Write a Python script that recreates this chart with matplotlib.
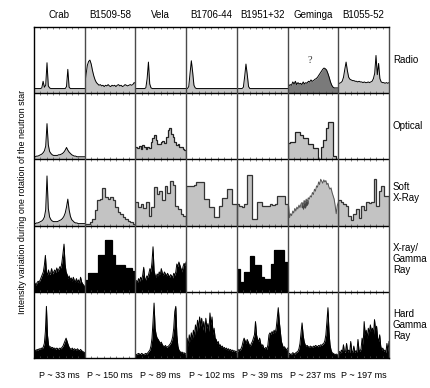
import matplotlib
matplotlib.use('Agg')
import matplotlib.pyplot as plt
import numpy as np

plt.rcParams['font.family'] = ['Liberation Sans', 'DejaVu Sans']

pulsars = ["Crab", "B1509-58", "Vela", "B1706-44", "B1951+32", "Geminga", "B1055-52"]
periods = ["P ~ 33 ms", "P ~ 150 ms", "P ~ 89 ms", "P ~ 102 ms", "P ~ 39 ms", "P ~ 237 ms", "P ~ 197 ms"]
bands = ["Radio", "Optical", "Soft\nX-Ray", "X-ray/\nGamma\nRay", "Hard\nGamma\nRay"]

# ---------------- Radio ----------------
crab_radio = [0.07, 0.07, 0.07, 0.07, 0.07, 0.07, 0.08, 0.18, 0.09, 0.12, 0.46, 0.11, 0.08,
              0.07, 0.07, 0.07, 0.07, 0.07, 0.07, 0.07, 0.07, 0.07, 0.07, 0.07, 0.07,
              0.10, 0.36, 0.09, 0.07, 0.07, 0.07, 0.07, 0.07, 0.07, 0.07, 0.07, 0.07, 0.07, 0.07, 0.07]
b1509_radio = [0.12, 0.28, 0.42, 0.48, 0.50, 0.44, 0.34, 0.26, 0.20, 0.16,
               0.14, 0.12, 0.13, 0.11, 0.12, 0.10, 0.12, 0.11, 0.13, 0.11,
               0.10, 0.12, 0.11, 0.12, 0.10, 0.12, 0.13, 0.11, 0.12, 0.10,
               0.11, 0.13, 0.12, 0.11, 0.12, 0.13, 0.12, 0.13, 0.16, 0.15]
vela_radio = [0.07, 0.07, 0.07, 0.07, 0.07, 0.07, 0.07, 0.07, 0.08, 0.22, 0.47, 0.14, 0.08,
              0.07, 0.07, 0.07, 0.07, 0.07, 0.07, 0.07, 0.07, 0.07, 0.07, 0.07, 0.07, 0.07,
              0.07, 0.07, 0.07, 0.07, 0.07, 0.07, 0.07, 0.07, 0.07, 0.07, 0.07, 0.07, 0.07, 0.07]
b1706_radio = [0.07, 0.07, 0.10, 0.30, 0.49, 0.32, 0.12, 0.08, 0.07, 0.07,
               0.07, 0.07, 0.07, 0.07, 0.07, 0.07, 0.07, 0.07, 0.07, 0.07,
               0.07, 0.07, 0.07, 0.07, 0.07, 0.07, 0.07, 0.07, 0.07, 0.07,
               0.07, 0.07, 0.07, 0.07, 0.07, 0.07, 0.07, 0.07, 0.07, 0.07]
b1951_radio = [0.07, 0.07, 0.07, 0.07, 0.07, 0.09, 0.25, 0.44, 0.28, 0.10,
               0.07, 0.07, 0.07, 0.07, 0.07, 0.07, 0.07, 0.07, 0.07, 0.07,
               0.07, 0.07, 0.07, 0.07, 0.07, 0.07, 0.07, 0.07, 0.07, 0.07,
               0.07, 0.07, 0.07, 0.07, 0.07, 0.07, 0.07, 0.07, 0.07, 0.07]
geminga_radio = [0.10, 0.11, 0.13, 0.12, 0.17, 0.14, 0.18, 0.13, 0.16, 0.14,
                 0.15, 0.13, 0.17, 0.14, 0.16, 0.15, 0.18, 0.17, 0.20, 0.18,
                 0.19, 0.21, 0.22, 0.24, 0.27, 0.30, 0.33, 0.36, 0.38, 0.37,
                 0.35, 0.30, 0.24, 0.17, 0.12, 0.09, 0.08, 0.08, 0.08, 0.08]
b1055_radio = [0.15, 0.15, 0.16, 0.18, 0.24, 0.36, 0.47, 0.34, 0.24, 0.21,
               0.20, 0.19, 0.19, 0.18, 0.18, 0.17, 0.18, 0.17, 0.17, 0.16,
               0.17, 0.16, 0.16, 0.17, 0.16, 0.17, 0.18, 0.22, 0.30, 0.57,
               0.28, 0.45, 0.22, 0.17, 0.16, 0.16, 0.15, 0.16, 0.15, 0.16]

# ---------------- Optical ----------------
crab_opt = [0.04, 0.04, 0.05, 0.05, 0.06, 0.07, 0.08, 0.10, 0.13, 0.20,
            0.54, 0.22, 0.12, 0.09, 0.07, 0.06, 0.06, 0.06, 0.06, 0.07,
            0.07, 0.08, 0.09, 0.11, 0.14, 0.18, 0.14, 0.11, 0.09, 0.07,
            0.06, 0.05, 0.05, 0.04, 0.04, 0.04, 0.04, 0.04, 0.04, 0.04]
vela_opt = [0.18, 0.17, 0.20, 0.16, 0.22, 0.18, 0.15, 0.19, 0.17, 0.26, 0.33, 0.37, 0.30, 0.24, 0.23,
            0.26, 0.28, 0.25, 0.34, 0.44, 0.48, 0.38, 0.34, 0.27, 0.22, 0.24, 0.19, 0.18, 0.15, 0.14]
geminga_opt = [0.25, 0.27, 0.27, 0.41, 0.41, 0.37, 0.32, 0.32, 0.23, 0.23,
               0.17, 0.17, 0.01, 0.19, 0.30, 0.48, 0.57, 0.57, 0.05, 0.0]

# ---------------- Soft X-ray ----------------
crab_soft = [0.03, 0.03, 0.04, 0.04, 0.05, 0.06, 0.07, 0.09, 0.13, 0.24,
             0.75, 0.26, 0.13, 0.09, 0.07, 0.06, 0.06, 0.06, 0.06, 0.07,
             0.08, 0.09, 0.11, 0.14, 0.19, 0.28, 0.40, 0.24, 0.14, 0.09,
             0.07, 0.05, 0.04, 0.04, 0.03, 0.03, 0.03, 0.03, 0.03, 0.03]
b1509_soft = [0.02, 0.03, 0.05, 0.10, 0.23, 0.38, 0.40, 0.57, 0.43, 0.40,
              0.43, 0.38, 0.28, 0.20, 0.17, 0.13, 0.10, 0.07, 0.05, 0.03]
vela_soft = [0.35, 0.28, 0.33, 0.26, 0.35, 0.15, 0.28, 0.58, 0.47, 0.52,
             0.39, 0.60, 0.50, 0.68, 0.62, 0.30, 0.25, 0.18, 0.14]
b1706_soft = [0.60, 0.60, 0.60, 0.62, 0.66, 0.66, 0.66, 0.40, 0.40, 0.28,
              0.28, 0.13, 0.13, 0.30, 0.41, 0.41, 0.56, 0.56, 0.33, 0.33]
b1951_soft = [0.32, 0.30, 0.28, 0.32, 0.76, 0.76, 0.10, 0.10, 0.36, 0.36,
              0.29, 0.29, 0.30, 0.32, 0.31, 0.32, 0.44, 0.44, 0.44, 0.33]
geminga_soft = [0.38, 0.30, 0.12, 0.18, 0.15, 0.22, 0.19, 0.26, 0.22, 0.28,
                0.25, 0.31, 0.27, 0.33, 0.35, 0.30, 0.38, 0.34, 0.40, 0.36,
                0.42, 0.40, 0.45, 0.43, 0.50, 0.47, 0.55, 0.52, 0.60, 0.58,
                0.66, 0.62, 0.70, 0.67, 0.64, 0.69, 0.66, 0.68, 0.62, 0.64,
                0.58, 0.55, 0.57, 0.50, 0.45, 0.40, 0.30, 0.18, 0.30, 0.35]
geminga_soft_low = [0.28, 0.27, 0.24, 0.28, 0.26, 0.30, 0.31, 0.34]  # lower edge of dark patch, points 13..20
b1055_soft = [0.38, 0.36, 0.33, 0.30, 0.15, 0.08, 0.18, 0.25, 0.12, 0.30,
              0.23, 0.36, 0.34, 0.36, 0.71, 0.30, 0.52, 0.60, 0.45, 0.45]

# ---------------- X-ray / Gamma ----------------
crab_xg = [0.12, 0.13, 0.10, 0.14, 0.16, 0.15, 0.18, 0.22, 0.26, 0.30,
           0.40, 0.55, 0.30, 0.25, 0.33, 0.26, 0.28, 0.35, 0.27, 0.30,
           0.33, 0.29, 0.36, 0.31, 0.34, 0.38, 0.36, 0.45, 0.58, 0.72,
           0.42, 0.30, 0.26, 0.20, 0.24, 0.18, 0.21, 0.16, 0.22, 0.17,
           0.15, 0.20, 0.14, 0.18, 0.13, 0.22, 0.15, 0.12, 0.10, 0.08]
b1509_xg = [0.18, 0.28, 0.28, 0.28, 0.55, 0.55, 0.78, 0.78, 0.55, 0.40,
            0.40, 0.40, 0.36, 0.36, 0.31]
vela_xg = [0.15, 0.17, 0.14, 0.20, 0.16, 0.22, 0.18, 0.25, 0.37, 0.20,
           0.18, 0.24, 0.22, 0.28, 0.35, 0.30, 0.45, 0.68, 0.32, 0.25,
           0.22, 0.27, 0.24, 0.30, 0.26, 0.35, 0.28, 0.25, 0.30, 0.27,
           0.24, 0.28, 0.25, 0.22, 0.26, 0.24, 0.21, 0.28, 0.25, 0.30,
           0.42, 0.38, 0.45, 0.40, 0.35, 0.30, 0.38, 0.43, 0.40, 0.45]
b1951_xg = [0.35, 0.15, 0.30, 0.30, 0.54, 0.40, 0.40, 0.22, 0.20, 0.20,
            0.42, 0.63, 0.63, 0.63, 0.45]

# ---------------- Hard Gamma ----------------
crab_hg = [0.10, 0.12, 0.11, 0.13, 0.12, 0.14, 0.13, 0.15, 0.14, 0.17,
           0.22, 0.40, 0.78, 0.35, 0.20, 0.16, 0.17, 0.15, 0.16, 0.14,
           0.15, 0.13, 0.15, 0.14, 0.13, 0.15, 0.14, 0.16, 0.18, 0.22,
           0.26, 0.30, 0.25, 0.20, 0.16, 0.14, 0.13, 0.15, 0.12, 0.14,
           0.13, 0.12, 0.14, 0.12, 0.11, 0.13, 0.11, 0.10, 0.09, 0.08]
vela_hg = [0.06, 0.05, 0.06, 0.07, 0.06, 0.05, 0.07, 0.06, 0.05, 0.06,
           0.07, 0.06, 0.08, 0.10, 0.12, 0.18, 0.30, 0.55, 0.83, 0.45,
           0.35, 0.30, 0.28, 0.25, 0.22, 0.24, 0.20, 0.18, 0.17, 0.19,
           0.16, 0.17, 0.18, 0.20, 0.22, 0.26, 0.32, 0.45, 0.70, 0.78,
           0.35, 0.18, 0.12, 0.10, 0.08, 0.09, 0.07, 0.08, 0.06, 0.07]
b1706_hg = [0.22, 0.30, 0.18, 0.35, 0.25, 0.38, 0.28, 0.42, 0.33, 0.50,
            0.40, 0.57, 0.45, 0.62, 0.48, 0.60, 0.42, 0.55, 0.38, 0.60,
            0.45, 0.52, 0.40, 0.68, 0.50, 0.62, 0.35, 0.45, 0.30, 0.28,
            0.22, 0.25, 0.18, 0.20, 0.16, 0.18, 0.14, 0.16, 0.13, 0.15,
            0.12, 0.14, 0.11, 0.13, 0.10, 0.12, 0.10, 0.11, 0.09, 0.10]
b1951_hg = [0.12, 0.10, 0.13, 0.11, 0.14, 0.18, 0.25, 0.30, 0.26, 0.22,
            0.28, 0.24, 0.20, 0.18, 0.22, 0.25, 0.30, 0.35, 0.55, 0.35,
            0.28, 0.25, 0.30, 0.22, 0.18, 0.20, 0.15, 0.14, 0.16, 0.13,
            0.20, 0.35, 0.38, 0.36, 0.40, 0.37, 0.42, 0.38, 0.45, 0.60,
            0.76, 0.55, 0.40, 0.25, 0.20, 0.15, 0.17, 0.14, 0.12, 0.15]
geminga_hg = [0.08, 0.06, 0.07, 0.05, 0.06, 0.08, 0.07, 0.06, 0.08, 0.09,
              0.10, 0.14, 0.22, 0.38, 0.53, 0.35, 0.25, 0.20, 0.18, 0.19,
              0.17, 0.16, 0.18, 0.17, 0.16, 0.18, 0.17, 0.19, 0.18, 0.17,
              0.19, 0.18, 0.20, 0.19, 0.21, 0.22, 0.26, 0.35, 0.55, 0.76,
              0.40, 0.20, 0.12, 0.08, 0.07, 0.06, 0.05, 0.06, 0.05, 0.04]
b1055_hg = [0.08, 0.10, 0.07, 0.12, 0.09, 0.20, 0.08, 0.10, 0.22, 0.09,
            0.12, 0.08, 0.25, 0.10, 0.09, 0.18, 0.08, 0.11, 0.09, 0.28,
            0.12, 0.10, 0.14, 0.30, 0.20, 0.55, 0.35, 0.42, 0.30, 0.45,
            0.38, 0.50, 0.40, 0.45, 0.35, 0.58, 0.42, 0.48, 0.30, 0.25,
            0.35, 0.18, 0.12, 0.15, 0.10, 0.12, 0.08, 0.22, 0.10, 0.25]

LIGHT = '#c3c3c3'
DARK = '#7a7a7a'

# (row, col): (values, kind, fill colour, line colour)
cells = {
    (0, 0): (crab_radio, 'line', LIGHT, 'black'),
    (0, 1): (b1509_radio, 'line', LIGHT, 'black'),
    (0, 2): (vela_radio, 'line', LIGHT, 'black'),
    (0, 3): (b1706_radio, 'line', LIGHT, 'black'),
    (0, 4): (b1951_radio, 'line', LIGHT, 'black'),
    (0, 5): (geminga_radio, 'line', DARK, 'black'),
    (0, 6): (b1055_radio, 'line', LIGHT, 'black'),
    (1, 0): (crab_opt, 'line', LIGHT, 'black'),
    (1, 2): (vela_opt, 'step', LIGHT, '#222222'),
    (1, 5): (geminga_opt, 'step', LIGHT, '#222222'),
    (2, 0): (crab_soft, 'line', LIGHT, 'black'),
    (2, 1): (b1509_soft, 'step', LIGHT, '#333333'),
    (2, 2): (vela_soft, 'step', LIGHT, '#333333'),
    (2, 3): (b1706_soft, 'step', LIGHT, '#333333'),
    (2, 4): (b1951_soft, 'step', LIGHT, '#333333'),
    (2, 5): (geminga_soft, 'line', LIGHT, '#555555'),
    (2, 6): (b1055_soft, 'step', LIGHT, '#333333'),
    (3, 0): (crab_xg, 'line', 'black', 'black'),
    (3, 1): (b1509_xg, 'step', 'black', 'black'),
    (3, 2): (vela_xg, 'line', 'black', 'black'),
    (3, 4): (b1951_xg, 'step', 'black', 'black'),
    (4, 0): (crab_hg, 'line', 'black', 'black'),
    (4, 2): (vela_hg, 'line', 'black', 'black'),
    (4, 3): (b1706_hg, 'line', 'black', 'black'),
    (4, 4): (b1951_hg, 'line', 'black', 'black'),
    (4, 5): (geminga_hg, 'line', 'black', 'black'),
    (4, 6): (b1055_hg, 'line', 'black', 'black'),
}

W, H = 431, 388
fig = plt.figure(figsize=(W / 100, H / 100), dpi=100)
fig.patch.set_facecolor('white')

left, right, top, bottom = 34, 389, 27, 358
ncol, nrow = 7, 5
cw = (right - left) / ncol
rh = (bottom - top) / nrow

axes = {}
for r in range(nrow):
    for c in range(ncol):
        ax = fig.add_axes([(left + c * cw) / W, 1 - (top + (r + 1) * rh) / H, cw / W, rh / H])
        ax.set_xlim(0, 1)
        ax.set_ylim(0, 1)
        for s in ax.spines.values():
            s.set_visible(False)
        ax.set_xticks(np.linspace(0, 1, 9)[1:-1])
        ax.set_yticks([])
        ax.tick_params(axis='x', direction='in', length=1.5, width=0.5, color='#555555',
                       top=True, bottom=True, labelbottom=False)
        axes[(r, c)] = ax

for (r, c), (vals, kind, fc, ec) in cells.items():
    ax = axes[(r, c)]
    if kind == 'line':
        x = np.linspace(0, 1, len(vals))
        ax.fill_between(x, 0, vals, color=fc, lw=0)
        ax.plot(x, vals, color=ec, lw=0.7)
    else:
        edges = np.linspace(0, 1, len(vals) + 1)
        ax.stairs(vals, edges, fill=True, color=fc, lw=0)
        ax.stairs(vals, edges, color=ec, lw=0.9)

# dark patch in Geminga soft X-ray
axg = axes[(2, 5)]
xg = np.linspace(0, 1, len(geminga_soft))[13:21]
axg.fill_between(xg, geminga_soft_low, geminga_soft[13:21], color='#444444', lw=0)

# question mark on Geminga radio
axes[(0, 5)].text(0.44, 0.42, '?', family=['Liberation Serif', 'DejaVu Serif'],
                  fontsize=7.5, ha='center', va='bottom', color='#333333')

# grid overlay
ov = fig.add_axes([left / W, 1 - bottom / H, (right - left) / W, (bottom - top) / H], zorder=10)
ov.set_xlim(0, ncol)
ov.set_ylim(nrow, 0)
ov.patch.set_alpha(0)
ov.set_xticks([])
ov.set_yticks([])
for r in range(1, nrow):
    ov.axhline(r, color='black', lw=1.0)
for c in range(1, ncol):
    ov.axvline(c, color='#4a4a4a', lw=1.0)
for name, s in ov.spines.items():
    s.set_linewidth(1.0)
    s.set_color('black' if name != 'right' else '#4a4a4a')

# texts
for c, (name, per) in enumerate(zip(pulsars, periods)):
    xc = (left + (c + 0.5) * cw) / W
    fig.text(xc, 1 - 15 / H, name, ha='center', va='center', fontsize=7)
    fig.text(xc, 1 - 375 / H, per, ha='center', va='center', fontsize=6.5)

for r, b in enumerate(bands):
    yc = 1 - (top + (r + 0.5) * rh) / H
    fig.text(393 / W, yc, b, ha='left', va='center', fontsize=7, linespacing=1.15)

fig.text(23 / W, 1 - 202 / H, 'Intensity variation during one rotation of the neutron star',
         rotation=90, ha='center', va='center', fontsize=6.5)

fig.savefig('out.png', dpi=100, facecolor='white')
